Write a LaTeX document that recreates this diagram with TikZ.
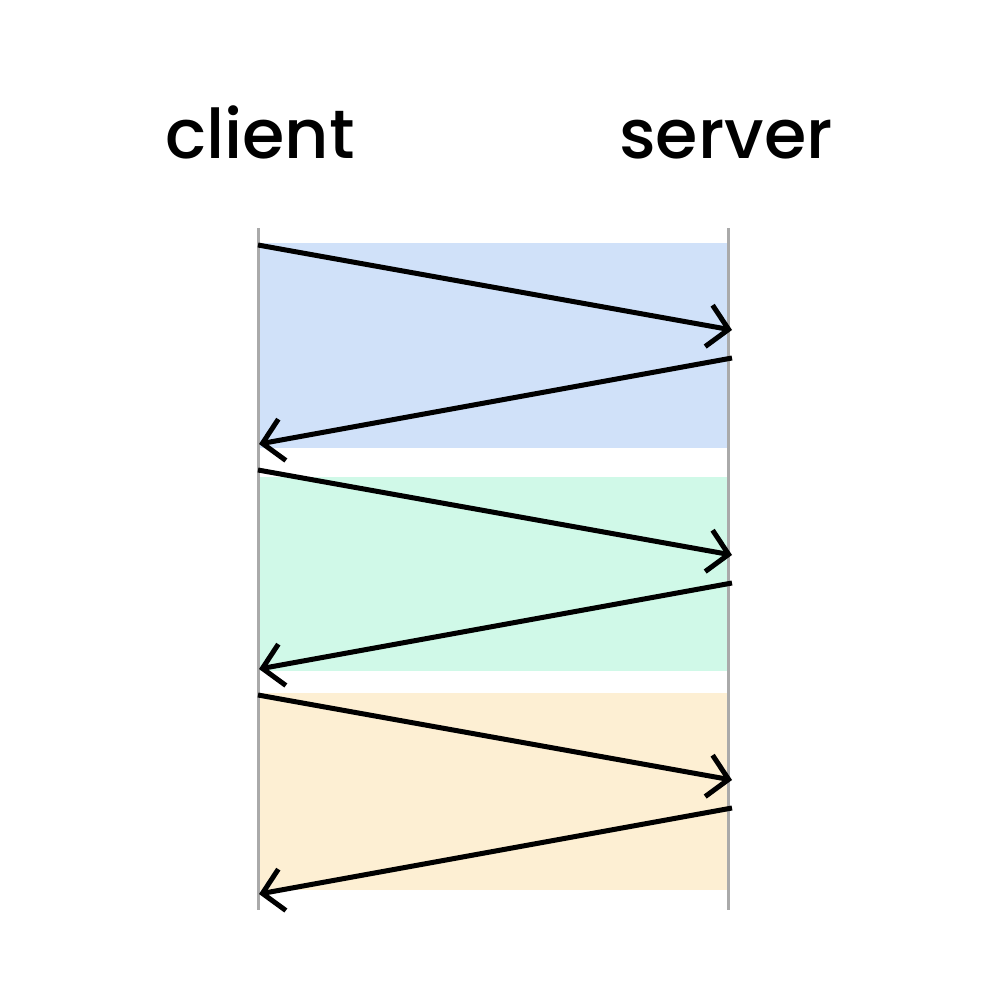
\documentclass[tikz,border=0pt]{standalone}
\usepackage{fontspec}
\setmainfont{Poppins}
\newfontfamily\actorfont{Poppins Medium}
\usetikzlibrary{arrows.meta}
\definecolor{reqblue}{RGB}{208,225,249}
\definecolor{reqgreen}{RGB}{208,249,232}
\definecolor{reqorange}{RGB}{253,239,211}
\definecolor{lifegray}{RGB}{170,170,170}
\tikzset{
    lifeline/.style={lifegray, line width=0.03cm},
    message/.style={black, line width=0.05cm, -{Straight Barb[length=0.2cm, width=0.42cm]}},
    actor/.style={anchor=base, font=\actorfont\fontsize{19.5}{22}\selectfont}
}
\begin{document}
\begin{tikzpicture}[x=0.01cm, y=-0.01cm]
    % Definitions
    \useasboundingbox (0,0) rectangle (1000,1000);
    \def \clientx{258}
    \def \serverx{728}
    %%%
    %%% Round trip backgrounds
    %%%
    \fill[reqblue]   (\clientx,243) rectangle (\serverx,448);
    \fill[reqgreen]  (\clientx,477) rectangle (\serverx,671);
    \fill[reqorange] (\clientx,693) rectangle (\serverx,890);
    % Lifelines
    \node[actor] (client) at (260,158) {client};
    \node[actor] (server) at (726,158) {server};
    \coordinate (clienttop) at (\clientx,228);
    \coordinate (clientbot) at (\clientx,910);
    \coordinate (servertop) at (\serverx,228);
    \coordinate (serverbot) at (\serverx,910);
    \draw[lifeline] (clienttop) -- (clientbot);
    \draw[lifeline] (servertop) -- (serverbot);
    % Request and response arrows
    \foreach \k in {0, 1, 2}
    {
        \coordinate (req\k) at (\clientx, 245+225*\k);
        \coordinate (arr\k) at (732, 330+225*\k);
        \coordinate (res\k) at (732, 358+225*\k);
        \coordinate (ret\k) at (259, 444+225*\k);
        \draw[message] (req\k) -- (arr\k);
        \draw[message] (res\k) -- (ret\k);
    }
\end{tikzpicture}
\end{document}
